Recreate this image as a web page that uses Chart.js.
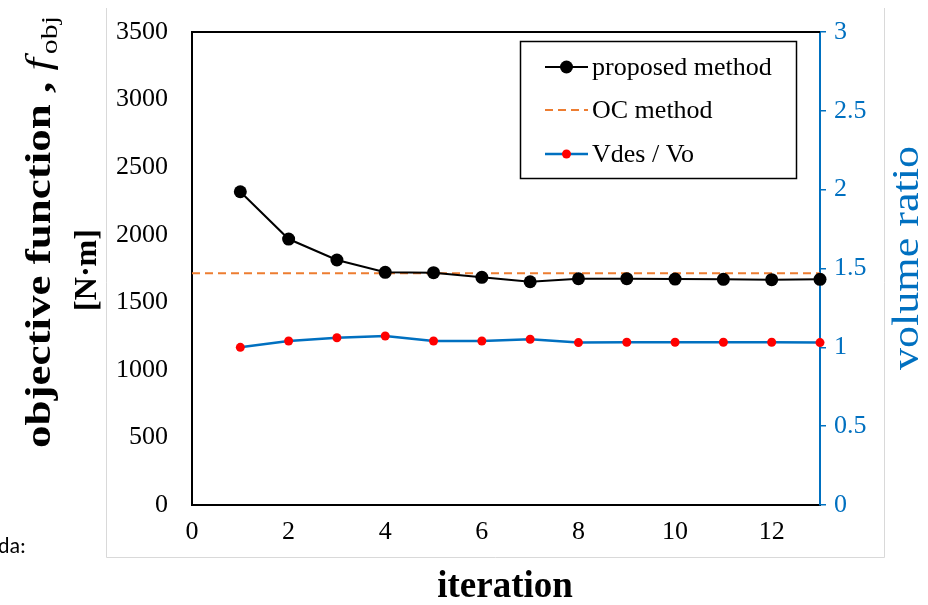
<!DOCTYPE html>
<html>
<head>
<meta charset="utf-8">
<script src="https://cdn.jsdelivr.net/npm/chart.js@4"></script>
<style>
  body { margin: 0; background: #fff; }
  #wrap { width: 928px; height: 605px; position: relative; }
</style>
</head>
<body>
<div id="wrap"><canvas id="grafica" width="928" height="605"></canvas></div>
<script>
// Datos
const iteraciones = [1, 2, 3, 4, 5, 6, 7, 8, 9, 10, 11, 12, 13];
const metodoPropuesto = [2318, 1968, 1813, 1722, 1719, 1685, 1652, 1674, 1675, 1672, 1670, 1667, 1670];
const metodoOC = 1714;
const rangoOC = [0, 13];
const relacionVolumen = [1.000, 1.040, 1.061, 1.072, 1.040, 1.040, 1.051, 1.030, 1.032, 1.032, 1.032, 1.032, 1.030];
const ticksX = [0, 2, 4, 6, 8, 10, 12];
const etiquetasLeyenda = ['proposed method', 'OC method', 'Vdes / Vo'];

const SERIF = '"Liberation Serif", "Times New Roman", serif';
const AZUL = '#0070C0';
const NARANJA = '#ED7D31';

// Leyenda, titulos de ejes y marco gris dibujados a mano
const decoracion = {
  id: 'decoracion',
  beforeDraw(chart) {
    const ctx = chart.ctx;
    ctx.save();
    ctx.fillStyle = '#fff';
    ctx.fillRect(0, 0, chart.width, chart.height);
    // marco gris
    ctx.strokeStyle = '#d9d9d9';
    ctx.lineWidth = 1;
    ctx.beginPath();
    ctx.moveTo(106.5, 8);
    ctx.lineTo(106.5, 557.5);
    ctx.lineTo(884.5, 557.5);
    ctx.lineTo(884.5, 8);
    ctx.stroke();
    // texto cortado abajo a la izquierda
    ctx.fillStyle = '#000';
    ctx.font = '22px Carlito, "Open Sans", sans-serif';
    ctx.textBaseline = 'alphabetic';
    ctx.textAlign = 'left';
    ctx.fillText('da:', -2, 553);
    ctx.restore();
  },
  afterDraw(chart) {
    const ctx = chart.ctx;
    const area = chart.chartArea;
    ctx.save();

    // borde superior
    ctx.strokeStyle = '#000';
    ctx.lineWidth = 2;
    ctx.beginPath();
    ctx.moveTo(area.left, area.top);
    ctx.lineTo(area.right, area.top);
    ctx.stroke();

    // titulo eje X
    ctx.fillStyle = '#000';
    ctx.font = 'bold 37px ' + SERIF;
    ctx.textAlign = 'center';
    ctx.textBaseline = 'alphabetic';
    ctx.fillText('iteration', 505, 597);

    // titulo eje Y izquierdo (texto algo estirado como en el original)
    ctx.save();
    ctx.translate(50, 232);
    ctx.rotate(-Math.PI / 2);
    ctx.scale(1.25, 1);
    const parte1 = 'objective function , ';
    ctx.font = 'bold 36px ' + SERIF;
    const w1 = ctx.measureText(parte1).width;
    ctx.font = 'italic 36px ' + SERIF;
    const w2 = ctx.measureText('f').width + 3;
    ctx.font = '24px ' + SERIF;
    const w3 = ctx.measureText('obj').width;
    const x0 = -(w1 + w2 + w3) / 2;
    ctx.textAlign = 'left';
    ctx.font = 'bold 36px ' + SERIF;
    ctx.fillText(parte1, x0, 0);
    ctx.font = 'italic 36px ' + SERIF;
    ctx.fillText('f', x0 + w1, 0);
    ctx.font = '24px ' + SERIF;
    ctx.fillText('obj', x0 + w1 + w2, 7);
    ctx.restore();

    ctx.save();
    ctx.translate(96, 270);
    ctx.rotate(-Math.PI / 2);
    ctx.font = 'bold 32px ' + SERIF;
    ctx.textAlign = 'center';
    ctx.fillText('[N\u00b7m]', 0, 0);
    ctx.restore();

    // titulo eje Y derecho
    ctx.save();
    ctx.translate(918, 258);
    ctx.rotate(-Math.PI / 2);
    ctx.scale(1.16, 1);
    ctx.fillStyle = AZUL;
    ctx.font = '38px ' + SERIF;
    ctx.textAlign = 'center';
    ctx.fillText('volume ratio', 0, 0);
    ctx.restore();

    // leyenda
    ctx.fillStyle = '#fff';
    ctx.fillRect(520, 41, 276, 137);
    ctx.strokeStyle = '#000';
    ctx.lineWidth = 1.5;
    ctx.strokeRect(520.5, 41.5, 276, 137);
    const filas = [67, 110, 154];
    ctx.font = '26px ' + SERIF;
    ctx.textAlign = 'left';
    ctx.textBaseline = 'middle';
    filas.forEach((y, i) => {
      ctx.beginPath();
      ctx.lineWidth = i === 2 ? 2.5 : 2;
      ctx.strokeStyle = i === 0 ? '#000' : (i === 1 ? NARANJA : AZUL);
      ctx.setLineDash(i === 1 ? [8, 5] : []);
      ctx.moveTo(545, y);
      ctx.lineTo(588, y);
      ctx.stroke();
      ctx.setLineDash([]);
      if (i !== 1) {
        ctx.beginPath();
        ctx.fillStyle = i === 0 ? '#000' : '#FF0000';
        ctx.arc(566.5, y, i === 0 ? 6.5 : 4.5, 0, Math.PI * 2);
        ctx.fill();
      }
      ctx.fillStyle = '#000';
      ctx.fillText(etiquetasLeyenda[i], 592, y + 1);
    });
    ctx.restore();
  }
};

const ajustarEjeY = (ancho) => (scale) => {
  scale.width = ancho;
  scale.paddingTop = 0;
  scale.paddingBottom = 0;
};

const ctxGrafica = document.getElementById('grafica');
new Chart(ctxGrafica, {
  type: 'line',
  data: {
    datasets: [
      {
        label: etiquetasLeyenda[0],
        data: iteraciones.map((x, i) => ({ x: x, y: metodoPropuesto[i] })),
        borderColor: '#000',
        backgroundColor: '#000',
        borderWidth: 2,
        pointRadius: 6.5,
        pointHoverRadius: 6.5,
        pointBorderWidth: 0,
        yAxisID: 'y',
        clip: false,
        order: 1
      },
      {
        label: etiquetasLeyenda[1],
        data: rangoOC.map(x => ({ x: x, y: metodoOC })),
        borderColor: NARANJA,
        borderWidth: 2,
        borderDash: [8, 5],
        pointRadius: 0,
        yAxisID: 'y',
        order: 3
      },
      {
        label: etiquetasLeyenda[2],
        data: iteraciones.map((x, i) => ({ x: x, y: relacionVolumen[i] })),
        borderColor: AZUL,
        backgroundColor: '#FF0000',
        borderWidth: 2.5,
        pointRadius: 4.5,
        pointHoverRadius: 4.5,
        pointBorderWidth: 0,
        yAxisID: 'y2',
        clip: false,
        order: 2
      }
    ]
  },
  options: {
    responsive: false,
    animation: false,
    devicePixelRatio: 1,
    layout: { padding: { top: 32, left: 0, right: 0, bottom: 0 } },
    plugins: {
      legend: { display: false },
      tooltip: { enabled: false }
    },
    scales: {
      x: {
        type: 'linear',
        min: 0,
        max: 13,
        afterBuildTicks: (scale) => { scale.ticks = ticksX.map(v => ({ value: v })); },
        afterFit: (scale) => {
          scale.height = 100;
          scale.paddingLeft = 0;
          scale.paddingRight = 0;
        },
        grid: { display: false, drawTicks: false },
        border: { display: true, color: '#000', width: 2 },
        ticks: {
          color: '#000',
          padding: 12,
          maxRotation: 0,
          callback: (v) => String(v),
          font: { family: SERIF, size: 26 }
        }
      },
      y: {
        position: 'left',
        min: 0,
        max: 3500,
        afterFit: ajustarEjeY(192),
        grid: { display: false, drawTicks: false },
        border: { display: true, color: '#000', width: 2 },
        ticks: {
          stepSize: 500,
          color: '#000',
          padding: 24,
          callback: (v) => String(v),
          font: { family: SERIF, size: 26 }
        }
      },
      y2: {
        position: 'right',
        min: 0,
        max: 3,
        afterFit: ajustarEjeY(108),
        grid: {
          drawOnChartArea: false,
          drawTicks: true,
          tickLength: 6,
          color: AZUL,
          lineWidth: 1.5
        },
        border: { display: true, color: AZUL, width: 2 },
        ticks: {
          stepSize: 0.5,
          color: AZUL,
          padding: 8,
          callback: (v) => String(v),
          font: { family: SERIF, size: 26 }
        }
      }
    }
  },
  plugins: [decoracion]
});
</script>
</body>
</html>
